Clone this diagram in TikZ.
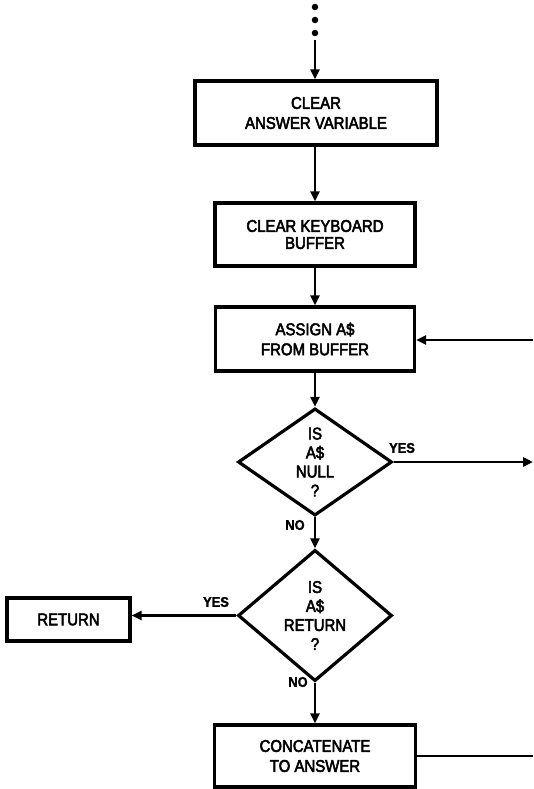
\documentclass[tikz,border=0pt]{standalone}
\usepackage{fontspec}
\setmainfont{Liberation Sans}[FakeStretch=0.88,FakeBold=3]
\newfontfamily\labelfont{Liberation Sans Bold}[FakeStretch=0.92,FakeBold=1.5]
\usetikzlibrary{shapes.geometric,arrows.meta}
\begin{document}
\begin{tikzpicture}[x=1pt,y=-1pt,
  box/.style={draw,line width=3.4pt,rectangle,align=center,inner sep=0pt,
    font=\fontsize{17}{20}\selectfont},
  decision/.style={draw,line width=3.2pt,diamond,align=center,inner sep=0pt,
    minimum width=154pt,minimum height=101pt,font=\fontsize{17}{19}\selectfont},
  flow/.style={line width=2.6pt,-{Triangle[length=10pt,width=9pt]}},
  plain/.style={line width=2.6pt},
  answer/.style={font=\labelfont\fontsize{14}{16}\selectfont,inner sep=0pt},
  dot/.style={circle,fill,inner sep=0pt,minimum size=6.5pt}]
\useasboundingbox (0,0) rectangle (533,789);

% continuation dots above the first step
\node[dot] (d1) at (315,7) {};
\node[dot] (d2) at (315,20) {};
\node[dot] (d3) at (315,33) {};
\coordinate (entry) at (315,40);

% process steps
\node[box,minimum width=242pt,minimum height=64pt] (clear) at (316,113) {CLEAR\\ANSWER VARIABLE};
\node[box,minimum width=200pt,minimum height=63pt,font=\fontsize{17}{17}\selectfont] (kbd) at (315,234.5) {CLEAR KEYBOARD\\BUFFER};
\node[box,minimum width=199pt,minimum height=64pt] (assign) at (315,339) {ASSIGN A\$\\FROM BUFFER};
\node[decision] (null) at (315,462) {IS\\A\$\\NULL\\?};
\node[decision] (isret) at (315,615.5) {IS\\A\$\\RETURN\\?};
\node[box,minimum width=123pt,minimum height=43pt] (ret) at (68.5,619.5) {RETURN};
\node[box,minimum width=201pt,minimum height=62pt] (concat) at (315,756) {CONCATENATE\\TO ANSWER};

% off-page ends of the loop lines
\coordinate (loopin) at (533,340);
\coordinate (yesout) at (533,462);
\coordinate (loopout) at (533,756);

% branch labels
\node[answer] (yes1) at (402,448) {YES};
\node[answer] (no1) at (295,525) {NO};
\node[answer] (yes2) at (216,602) {YES};
\node[answer] (no2) at (298,682) {NO};

% connectors
\draw[flow] (entry) -- (clear.north -| entry);
\draw[flow] (clear.south -| kbd.north) -- (kbd.north);
\draw[flow] (kbd.south) -- (assign.north);
\draw[flow] (assign.south) -- (null.north);
\draw[flow] (null.south) -- (isret.north);
\draw[flow] (isret.south) -- (concat.north);
\draw[flow] (isret.west) -- (ret.east |- isret.west);
\draw[flow] (null.east) -- (yesout);
\draw[flow] (loopin) -- (assign.east |- loopin);
\draw[plain] (concat.east) -- (loopout);
\end{tikzpicture}
\end{document}
